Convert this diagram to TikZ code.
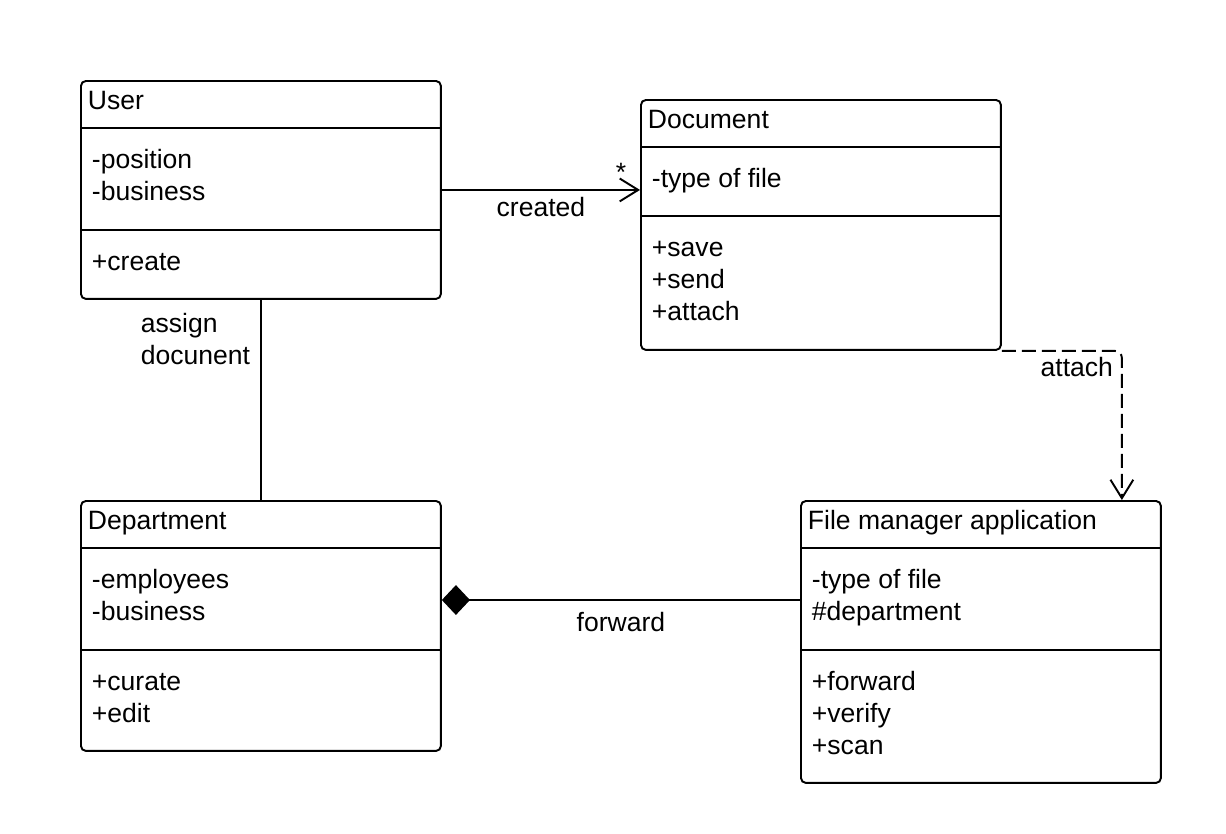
\documentclass[tikz,border=0pt]{standalone}
\usepackage{fontspec}
\setmainfont{Liberation Sans}
\usetikzlibrary{arrows.meta, positioning, calc}
\tikzset{
    classdiagram/.style={x=0.02cm, y=-0.02cm, line width=1.1pt, font=\fontsize{15.1pt}{18.2pt}\selectfont},
    classbox/.style={draw, rounded corners=2.8pt, minimum width=7.2cm, inner sep=0pt, anchor=north west},
    classname/.style={anchor=base west, inner sep=0pt},
    % base of a member list is the baseline of its last line
    members/.style={anchor=base west, inner sep=0pt, align=left},
    rolelabel/.style={inner sep=0pt},
    % open arrow head for associations and dependencies
    navigable/.style={-{Straight Barb[length=10.5pt, width=13pt]}},
    dependency/.style={navigable, dash pattern=on 0.28cm off 0.12cm, rounded corners=4pt},
    composition/.style={{Diamond[length=16pt, width=17pt]}-},
}

\begin{document}
\begin{tikzpicture}[classdiagram]
    \useasboundingbox (0,0) rectangle (1226,833);

    % classes
    \node[classbox, minimum height=4.36cm] (user) at (80,80)   {};
    \node[classbox, minimum height=5cm]    (doc)  at (640,99)  {};
    \node[classbox, minimum height=5cm]    (dept) at (80,500)  {};
    \node[classbox, minimum height=5.64cm] (fm)   at (800,500) {};

    % compartments
    \draw ($(user.north west)+(0,48)$)  -- ($(user.north east)+(0,48)$);
    \draw ($(user.north west)+(0,150)$) -- ($(user.north east)+(0,150)$);
    \draw ($(doc.north west)+(0,48)$)   -- ($(doc.north east)+(0,48)$);
    \draw ($(doc.north west)+(0,117)$)  -- ($(doc.north east)+(0,117)$);
    \draw ($(dept.north west)+(0,48)$)  -- ($(dept.north east)+(0,48)$);
    \draw ($(dept.north west)+(0,150)$) -- ($(dept.north east)+(0,150)$);
    \draw ($(fm.north west)+(0,48)$)    -- ($(fm.north east)+(0,48)$);
    \draw ($(fm.north west)+(0,150)$)   -- ($(fm.north east)+(0,150)$);

    \node[classname] (user-name) at ($(user.north west)+(7,29)$)  {User};
    \node[members]   (user-attr) at ($(user.north west)+(11,120)$) {-position\\-business};
    \node[members]   (user-ops)  at ($(user.north west)+(11,190)$) {+create};

    \node[classname] (doc-name) at ($(doc.north west)+(7,29)$)  {Document};
    \node[members]   (doc-attr) at ($(doc.north west)+(11,88)$) {-type of file};
    \node[members]   (doc-ops)  at ($(doc.north west)+(11,221)$) {+save\\+send\\+attach};

    \node[classname] (dept-name) at ($(dept.north west)+(7,29)$)  {Department};
    \node[members]   (dept-attr) at ($(dept.north west)+(11,120)$) {-employees\\-business};
    \node[members]   (dept-ops)  at ($(dept.north west)+(11,222)$) {+curate\\+edit};

    \node[classname] (fm-name) at ($(fm.north west)+(7,29)$)  {File manager application};
    \node[members]   (fm-attr) at ($(fm.north west)+(11,120)$) {-type of file\\\#department};
    \node[members]   (fm-ops)  at ($(fm.north west)+(11,254)$) {+forward\\+verify\\+scan};

    % relations
    \draw[navigable] (user.east) -- node[rolelabel, below=3.4pt] (created-label) {created} (user.east -| doc.west);
    \node[rolelabel, anchor=base] (created-mult) at ($(user.east -| doc.west)+(-19,-8)$) {*};

    \draw (user.south) -- (dept.north);
    \node[members] (assign-label) at ($(user.south)+(-121,65)$) {assign\\docunent};

    \coordinate (attach-end) at ($(fm.north east)+(-40,0)$);
    \draw[dependency] (doc.south east) -| (attach-end);
    \node[rolelabel, anchor=base east] (attach-label) at ($(doc.south east)+(112,26)$) {attach};

    \coordinate (forward-start) at ($(dept.north east)+(0,100)$);
    \draw[composition] (forward-start) -- node[rolelabel, below=6.6pt] (forward-label) {forward} (forward-start -| fm.west);
\end{tikzpicture}
\end{document}
